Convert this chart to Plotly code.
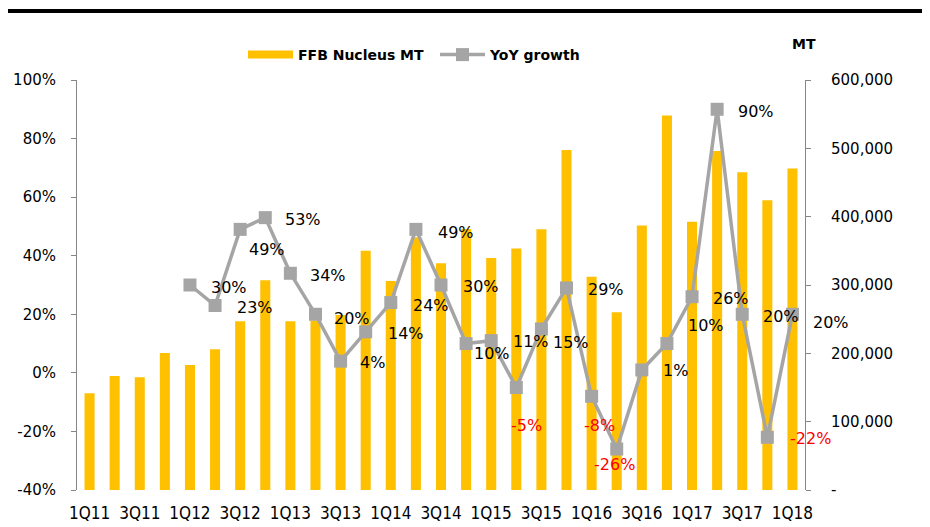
import plotly.graph_objects as go

quarters = ["1Q11", "2Q11", "3Q11", "4Q11",
            "1Q12", "2Q12", "3Q12", "4Q12",
            "1Q13", "2Q13", "3Q13", "4Q13",
            "1Q14", "2Q14", "3Q14", "4Q14",
            "1Q15", "2Q15", "3Q15", "4Q15",
            "1Q16", "2Q16", "3Q16", "4Q16",
            "1Q17", "2Q17", "3Q17", "4Q17",
            "1Q18"]

ffb_mt = [141500, 167000, 165000, 200500,
          183000, 206000, 247000, 307000,
          247000, 248000, 256000, 350000,
          306000, 370000, 332000, 382000,
          339500, 353500, 381500, 497500,
          312000, 260000, 387000, 548000,
          392500, 496000, 465000, 424000,
          470500]

yoy_pct = [None, None, None, None,
           30, 23, 49, 53,
           34, 20, 4, 14,
           24, 49, 30, 10,
           11, -5, 15, 29,
           -8, -26, 1, 10,
           26, 90, 20, -22,
           20]

x_tick_labels = quarters[::2]
pct_ticks = [-40, -20, 0, 20, 40, 60, 80, 100]
mt_ticks = [0, 100000, 200000, 300000, 400000, 500000, 600000]
mt_tick_text = ["-", "100,000", "200,000", "300,000", "400,000", "500,000", "600,000"]

PCT_RANGE = [-40, 100]
MT_RANGE = [0, 600000]

# style: label offsets (pixels, centre of label relative to marker; dy positive = down)
label_dx = [0, 0, 0, 0,
            39, 40, 27, 38,
            38, 37, 32, 40,
            40, 40, 40, 26,
            40, 10, 30, 39,
            8, -2, 34, 39,
            39, 39, 39, 43,
            39]
label_dy = [0, 0, 0, 0,
            2, 2, 20, 2,
            2, 4, 1, 2,
            3, 3, 1, 10,
            1, 38, 14, 2,
            29, 15, 1, -18,
            2, 2, 2, 1,
            8]

BAR_COLOR = "#FFC000"
LINE_COLOR = "#A5A5A5"
AXIS_COLOR = "#868686"
FONT = "DejaVu Sans"

# the page body has an 8px margin; size the figure so it ends at the window edge
OFF = 8
W, H = 930 - OFF, 527 - OFF
ML, MT_, PW, PH = 77 - OFF, 80 - OFF, 728, 410
MR = W - ML - PW
MB = H - MT_ - PH

fig = go.Figure()

fig.add_trace(go.Bar(
    x=quarters, y=ffb_mt, name="FFB Nucleus MT",
    marker=dict(color=BAR_COLOR, line=dict(width=0)),
    yaxis="y", showlegend=False, legendgroup="ffb",
))

# legend entry drawn as a wide swatch, like the original
fig.add_trace(go.Scatter(
    x=[None], y=[None], name="FFB Nucleus MT", mode="lines",
    line=dict(color=BAR_COLOR, width=8), yaxis="y", legendgroup="ffb",
))

fig.add_trace(go.Scatter(
    x=quarters, y=yoy_pct, name="YoY growth",
    mode="lines+markers",
    line=dict(color=LINE_COLOR, width=3.5),
    marker=dict(symbol="square", size=13, color=LINE_COLOR),
    yaxis="y2", connectgaps=False,
))

annotations = []
for q, v, dx, dy in zip(quarters, yoy_pct, label_dx, label_dy):
    if v is None:
        continue
    annotations.append(dict(
        x=q, y=v, xref="x", yref="y2", text=f"{v}%", showarrow=False,
        xanchor="center", yanchor="middle", xshift=dx, yshift=-dy,
        font=dict(family=FONT, size=16, color="#FF0000" if v < 0 else "#000000"),
    ))

annotations.append(dict(
    text="<b>MT</b>", xref="paper", yref="paper",
    x=(804 - 77) / PW, y=1 + (80 - 44) / PH, xanchor="center", yanchor="middle",
    showarrow=False, font=dict(family=FONT, size=14, color="#000000")))

zero_frac = (0 - PCT_RANGE[0]) / (PCT_RANGE[1] - PCT_RANGE[0])

fig.update_layout(
    width=W, height=H,
    margin=dict(l=ML, r=MR, t=MT_, b=MB, autoexpand=False),
    paper_bgcolor="white", plot_bgcolor="white",
    font=dict(family=FONT, size=15, color="#000000"),
    bargap=0.6,
    showlegend=True,
    legend=dict(orientation="h", x=(243 - 77) / PW, xanchor="left",
                y=1 + (80 - 55) / PH, yanchor="middle",
                font=dict(family="DejaVu Sans", size=14, weight="bold"),
                itemwidth=45, entrywidth=132, entrywidthmode="pixels",
                bgcolor="rgba(0,0,0,0)", traceorder="normal"),
    xaxis=dict(
        type="category", categoryorder="array", categoryarray=quarters,
        range=[-0.5, len(quarters) - 0.5],
        tickmode="array", tickvals=x_tick_labels, ticktext=x_tick_labels,
        tickangle=0, ticks="", showline=False, showgrid=False, zeroline=False,
        tickfont=dict(family="Liberation Sans Narrow, DejaVu Sans Condensed, Liberation Sans", size=17),
        ticklabelstandoff=11, automargin=False,
    ),
    xaxis2=dict(
        overlaying="x", anchor="free", position=zero_frac, side="bottom",
        type="linear", range=[-0.5, len(quarters) - 0.5],
        tickmode="array", tickvals=[i + 0.5 for i in range(-1, len(quarters))],
        ticks="outside", ticklen=6, tickcolor=AXIS_COLOR, tickwidth=1,
        showticklabels=False, showline=True, linecolor=AXIS_COLOR, linewidth=1,
        showgrid=False, zeroline=False,
    ),
    yaxis=dict(
        side="right", range=MT_RANGE,
        tickmode="array", tickvals=mt_ticks, ticktext=mt_tick_text,
        ticks="outside", ticklen=5, tickcolor=AXIS_COLOR,
        showline=True, linecolor=AXIS_COLOR, linewidth=1,
        showgrid=False, zeroline=False, ticklabelstandoff=17, automargin=False,
        tickfont=dict(family=FONT, size=15),
    ),
    yaxis2=dict(
        overlaying="y", side="left", range=PCT_RANGE,
        tickmode="array", tickvals=pct_ticks, ticktext=[f"{t}%" for t in pct_ticks],
        ticks="outside", ticklen=5, tickcolor=AXIS_COLOR,
        showline=True, linecolor=AXIS_COLOR, linewidth=1,
        showgrid=False, zeroline=False, ticklabelstandoff=12, automargin=False,
        tickfont=dict(family=FONT, size=15),
    ),
    shapes=[dict(type="line", xref="paper", yref="paper",
                 x0=-ML / PW, x1=(W - ML) / PW,
                 y0=1 + (80 - 11) / PH, y1=1 + (80 - 11) / PH,
                 line=dict(color="#000000", width=4))],
    annotations=annotations,
)

fig.write_html("out.html")
